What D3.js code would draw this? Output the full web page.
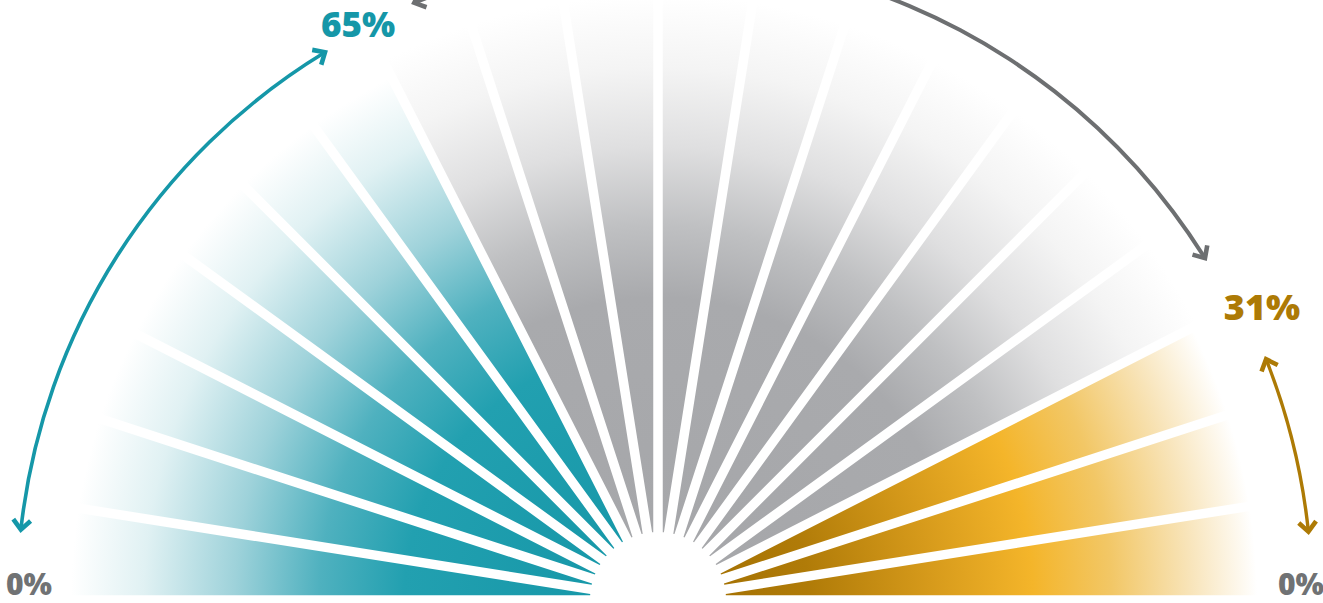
<!DOCTYPE html>
<html>
<head>
<meta charset="utf-8">
<script src="https://cdn.jsdelivr.net/npm/d3@7"></script>
<style>
  html, body { margin: 0; padding: 0; background: #ffffff; overflow: hidden; }
  svg { display: block; }
  text { font-family: "Open Sans", "Lato", sans-serif; font-weight: 800; }
</style>
</head>
<body>
<svg id="chart" width="1323" height="603"></svg>
<script>
// ---------------- data ----------------
const groups = ["teal", "gray", "gold"];
const wedgeCounts = [7, 10, 3];          // wedges per group, left to right
const shareValues = [65, 4, 31];         // percentages shown
const endLabels = ["0%", "0%"];
const peakLabels = ["65%", "31%"];

// ---------------- styles ----------------
const W = 1323, H = 603;
const cx = 658, cy = 600;
const rInner = 68, rOuter = 605;
const gapPx = 9.5;

const svg = d3.select("#chart");
const defs = svg.append("defs");

const gradStops = {
  teal: [[0, "#1395a6"], [0.42, "#22a0b0"], [0.56, "#4fb1bf"], [0.7, "#9ed2da"], [0.85, "#e0f1f3"], [0.97, "#ffffff"]],
  gray: [[0, "#a5a6a9"], [0.5, "#a9aaad"], [0.62, "#bfc0c2"], [0.75, "#dfdfe0"], [0.88, "#f4f4f4"], [1, "#ffffff"]],
  gold: [[0, "#9e6c00"], [0.25, "#b07b08"], [0.45, "#d69a1b"], [0.62, "#f4b52a"], [0.75, "#f2c766"], [0.88, "#f8e4b9"], [0.99, "#ffffff"]]
};
groups.forEach(g => {
  const rg = defs.append("radialGradient")
    .attr("id", "grad-" + g)
    .attr("gradientUnits", "userSpaceOnUse")
    .attr("cx", 0).attr("cy", 0).attr("r", rOuter);
  rg.selectAll("stop").data(gradStops[g]).join("stop")
    .attr("offset", d => d[0]).attr("stop-color", d => d[1]);
});

// ---------------- wedges ----------------
const totalWedges = d3.sum(wedgeCounts);
const wedges = [];
groups.forEach((g, gi) => {
  for (let k = 0; k < wedgeCounts[gi]; k++) wedges.push({ group: g });
});
const angle = d3.scaleLinear().domain([0, totalWedges]).range([-Math.PI / 2, Math.PI / 2]);

const arc = d3.arc()
  .innerRadius(rInner)
  .outerRadius(rOuter)
  .padRadius(rOuter)
  .padAngle(gapPx / rOuter);

const g = svg.append("g").attr("transform", `translate(${cx},${cy})`);
g.selectAll("path.wedge").data(wedges).join("path")
  .attr("class", "wedge")
  .attr("d", (d, i) => arc({ startAngle: angle(i), endAngle: angle(i + 1) }))
  .attr("fill", d => `url(#grad-${d.group})`);

// ---------------- arrows ----------------
const deg = Math.PI / 180;
// arrows given in math angles (deg, CCW from east)
const arrows = [
  { color: "#1597a8", r: 641, from: 173.7, to: 121.3, w: 3.6 },
  { color: "#6d6f71", r: 645, from: 112.2, to: 32.0, w: 4.0 },
  { color: "#ad7a05", r: 654, from: 21.6, to: 6.0, w: 3.4 }
];
const arrowArc = d3.arc();
arrows.forEach(a => {
  const s = 90 - a.from, e = 90 - a.to;
  g.append("path")
    .attr("d", arrowArc({ innerRadius: a.r - a.w / 2, outerRadius: a.r + a.w / 2, startAngle: s * deg, endAngle: e * deg }))
    .attr("fill", a.color);
  const chev = (thDeg, dirSign) => {
    const th = thDeg * deg;
    const px = a.r * Math.cos(th), py = -a.r * Math.sin(th);
    const tx = -Math.sin(th) * dirSign, ty = -Math.cos(th) * dirSign;
    const L = 13, al = 42 * deg;
    const back = (sgn) => {
      const c = Math.cos(al), sn = Math.sin(al) * sgn;
      const bx = -tx, by = -ty;
      return [px + L * (bx * c - by * sn), py + L * (bx * sn + by * c)];
    };
    const p1 = back(1), p2 = back(-1);
    g.append("path")
      .attr("d", `M${p1[0]},${p1[1]}L${px},${py}L${p2[0]},${p2[1]}`)
      .attr("fill", "none").attr("stroke", a.color)
      .attr("stroke-width", 4.6).attr("stroke-linejoin", "miter").attr("stroke-linecap", "butt");
  };
  chev(a.from, 1);
  chev(a.to, -1);
});

// ---------------- labels ----------------
svg.append("text").attr("x", 29).attr("y", 595).attr("text-anchor", "middle")
  .attr("font-size", 30).attr("fill", "#707274").text(endLabels[0]);
svg.append("text").attr("x", 1301).attr("y", 595).attr("text-anchor", "middle")
  .attr("font-size", 30).attr("fill", "#707274").text(endLabels[1]);
svg.append("text").attr("x", 358).attr("y", 37).attr("text-anchor", "middle")
  .attr("font-size", 35).attr("fill", "#1597a8").text(peakLabels[0]);
svg.append("text").attr("x", 1262).attr("y", 320).attr("text-anchor", "middle")
  .attr("font-size", 36).attr("fill", "#ad7a05").text(peakLabels[1]);
</script>
</body>
</html>
